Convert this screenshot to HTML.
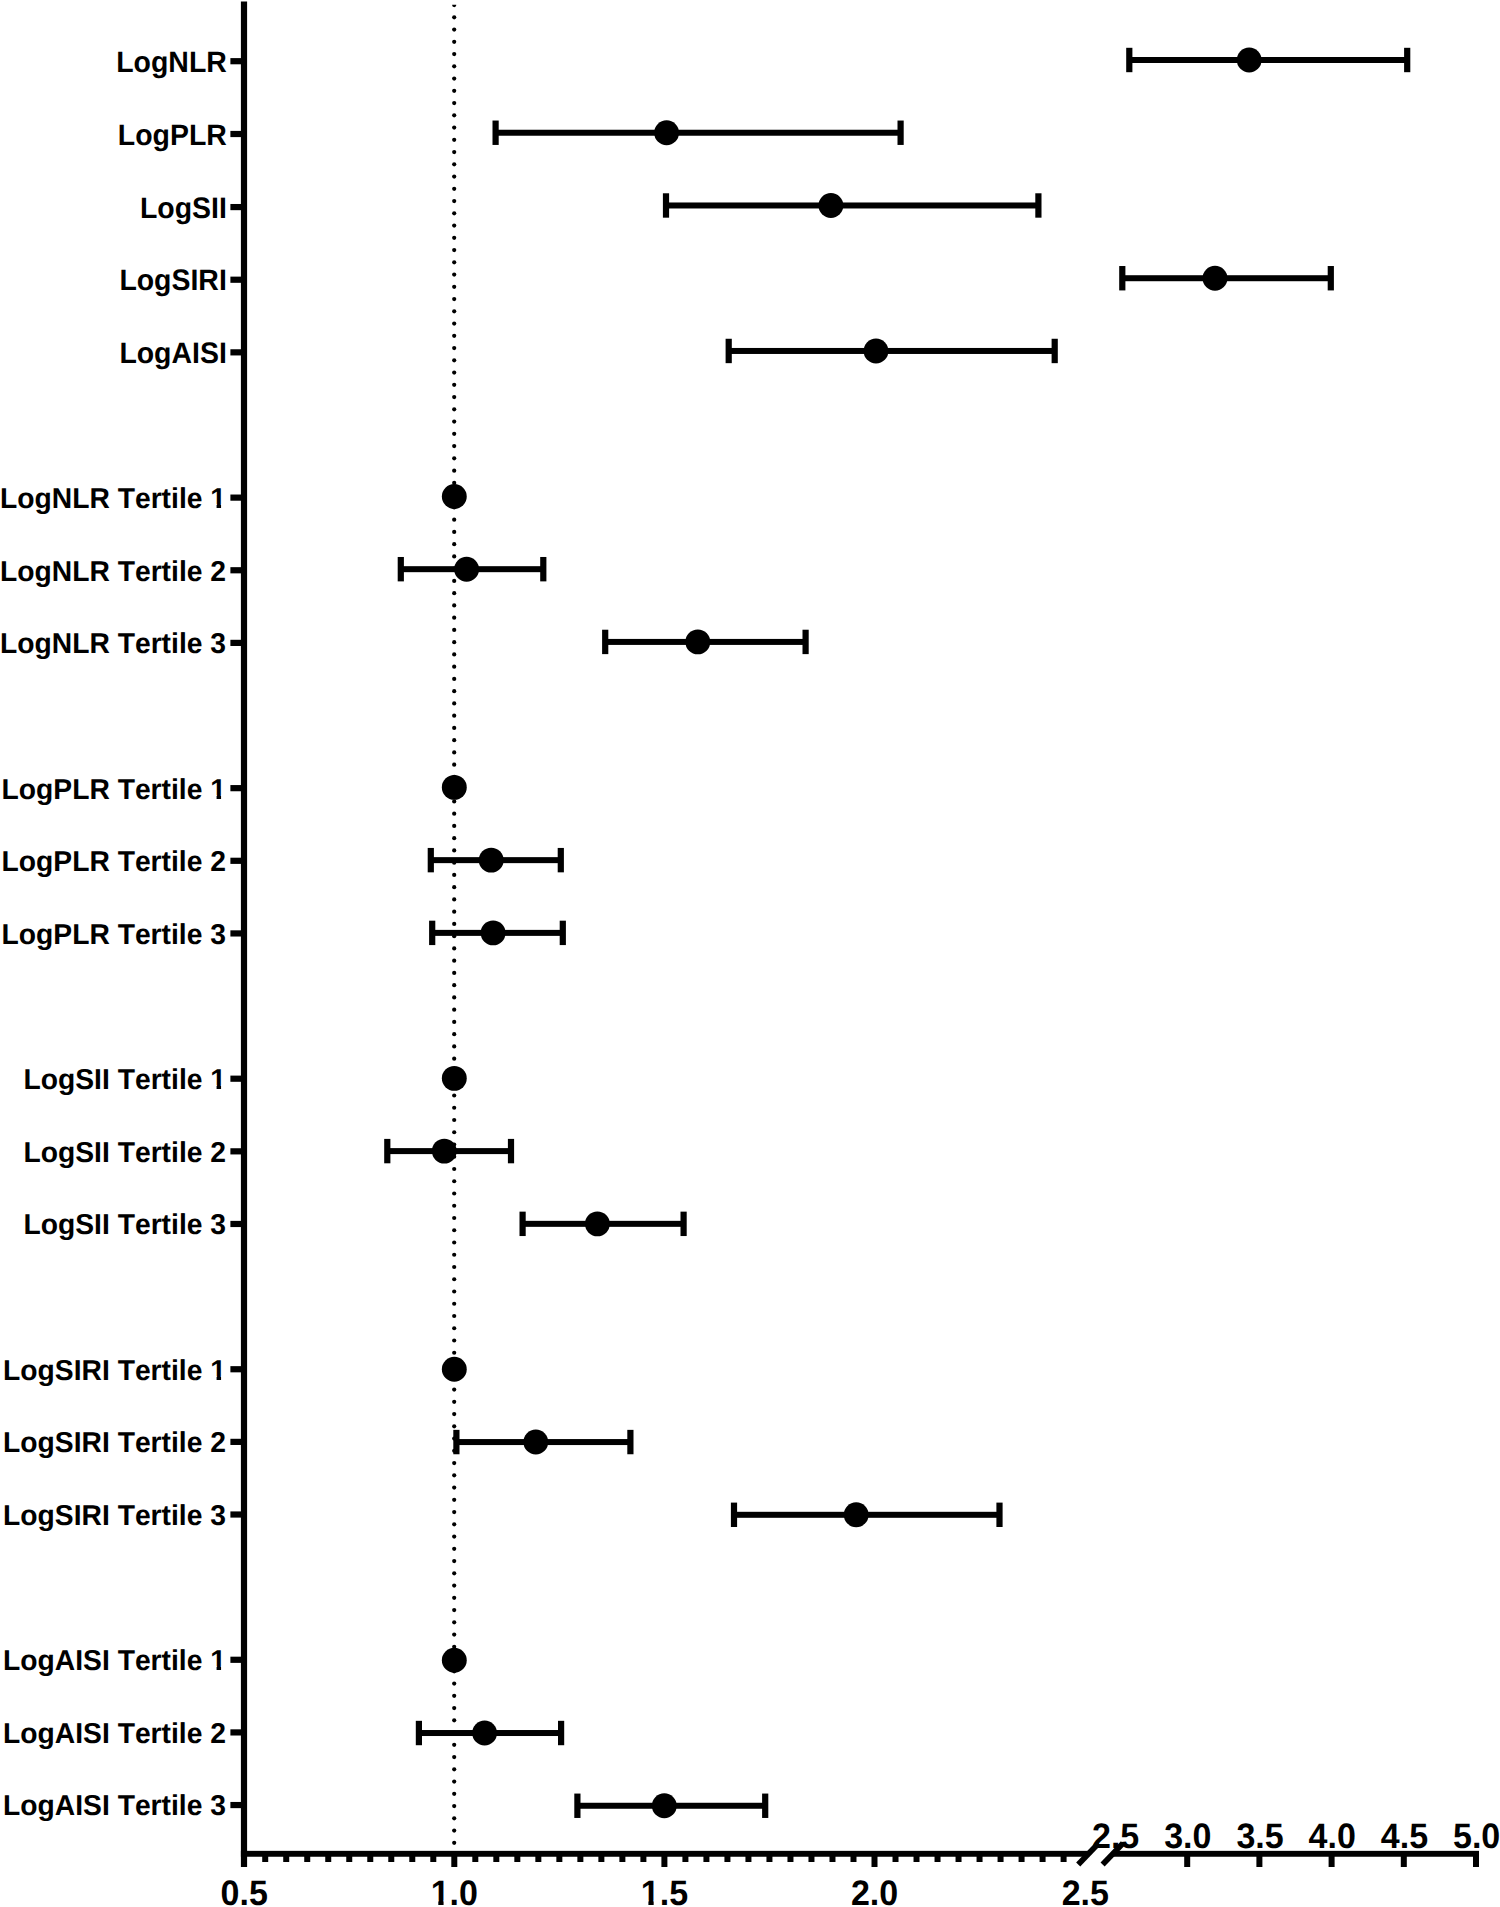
<!DOCTYPE html>
<html lang="en"><head><meta charset="utf-8"><title>Forest plot</title>
<style>html,body{margin:0;padding:0;background:#fff}svg{display:block}text{font-family:"Liberation Sans",Arial,Helvetica,sans-serif;font-weight:bold;fill:#000;font-kerning:none;text-rendering:geometricPrecision}.yl{font-size:28.25px;text-anchor:end}.yt{font-size:28.45px}.xl{font-size:34px;text-anchor:middle}</style></head><body>
<svg width="1500" height="1907" viewBox="0 0 1500 1907">
<rect width="1500" height="1907" fill="#fff"/>
<g id="ylabels">
<rect x="230.4" y="58.10" width="12" height="6.2" fill="#000"/>
<text class="yl yt" transform="translate(226.8 72.00) scale(1 1.04)">LogNLR</text>
<rect x="230.4" y="130.90" width="12" height="6.2" fill="#000"/>
<text class="yl yt" transform="translate(226.8 144.93) scale(1 1.04)">LogPLR</text>
<rect x="230.4" y="203.98" width="12" height="6.2" fill="#000"/>
<text class="yl yt" transform="translate(226.8 217.55) scale(1 1.04)">LogSII</text>
<rect x="230.4" y="276.62" width="12" height="6.2" fill="#000"/>
<text class="yl yt" transform="translate(226.8 290.18) scale(1 1.04)">LogSIRI</text>
<rect x="230.4" y="349.25" width="12" height="6.2" fill="#000"/>
<text class="yl yt" transform="translate(226.8 362.80) scale(1 1.04)">LogAISI</text>
<rect x="230.4" y="494.52" width="12" height="6.2" fill="#000"/>
<text class="yl" transform="translate(226.0 508.05) scale(1 1.02)">LogNLR Tertile 1</text>
<rect x="230.4" y="567.16" width="12" height="6.2" fill="#000"/>
<text class="yl" transform="translate(226.0 580.67) scale(1 1.02)">LogNLR Tertile 2</text>
<rect x="230.4" y="639.79" width="12" height="6.2" fill="#000"/>
<text class="yl" transform="translate(226.0 653.30) scale(1 1.02)">LogNLR Tertile 3</text>
<rect x="230.4" y="785.06" width="12" height="6.2" fill="#000"/>
<text class="yl" transform="translate(226.0 798.55) scale(1 1.02)">LogPLR Tertile 1</text>
<rect x="230.4" y="857.70" width="12" height="6.2" fill="#000"/>
<text class="yl" transform="translate(226.0 871.17) scale(1 1.02)">LogPLR Tertile 2</text>
<rect x="230.4" y="930.33" width="12" height="6.2" fill="#000"/>
<text class="yl" transform="translate(226.0 943.80) scale(1 1.02)">LogPLR Tertile 3</text>
<rect x="230.4" y="1075.60" width="12" height="6.2" fill="#000"/>
<text class="yl" transform="translate(226.0 1089.05) scale(1 1.02)">LogSII Tertile 1</text>
<rect x="230.4" y="1148.24" width="12" height="6.2" fill="#000"/>
<text class="yl" transform="translate(226.0 1161.67) scale(1 1.02)">LogSII Tertile 2</text>
<rect x="230.4" y="1220.87" width="12" height="6.2" fill="#000"/>
<text class="yl" transform="translate(226.0 1234.30) scale(1 1.02)">LogSII Tertile 3</text>
<rect x="230.4" y="1366.14" width="12" height="6.2" fill="#000"/>
<text class="yl" transform="translate(226.0 1379.55) scale(1 1.02)">LogSIRI Tertile 1</text>
<rect x="230.4" y="1438.78" width="12" height="6.2" fill="#000"/>
<text class="yl" transform="translate(226.0 1452.17) scale(1 1.02)">LogSIRI Tertile 2</text>
<rect x="230.4" y="1511.41" width="12" height="6.2" fill="#000"/>
<text class="yl" transform="translate(226.0 1524.80) scale(1 1.02)">LogSIRI Tertile 3</text>
<rect x="230.4" y="1656.68" width="12" height="6.2" fill="#000"/>
<text class="yl" transform="translate(226.0 1670.05) scale(1 1.02)">LogAISI Tertile 1</text>
<rect x="230.4" y="1729.32" width="12" height="6.2" fill="#000"/>
<text class="yl" transform="translate(226.0 1742.67) scale(1 1.02)">LogAISI Tertile 2</text>
<rect x="230.4" y="1801.95" width="12" height="6.2" fill="#000"/>
<text class="yl" transform="translate(226.0 1815.30) scale(1 1.02)">LogAISI Tertile 3</text>
</g>
<g id="axes" fill="#000">
<rect x="240.90" y="1.5" width="6.20" height="1865.50"/>
<rect x="240.90" y="1850.85" width="847.10" height="5.90"/>
<rect x="1113" y="1850.85" width="366.00" height="5.90"/>
<rect x="262.21" y="1853.80" width="6" height="8.20"/>
<rect x="283.22" y="1853.80" width="6" height="8.20"/>
<rect x="304.23" y="1853.80" width="6" height="8.20"/>
<rect x="325.24" y="1853.80" width="6" height="8.20"/>
<rect x="346.25" y="1853.80" width="6" height="8.20"/>
<rect x="367.26" y="1853.80" width="6" height="8.20"/>
<rect x="388.27" y="1853.80" width="6" height="8.20"/>
<rect x="409.28" y="1853.80" width="6" height="8.20"/>
<rect x="430.29" y="1853.80" width="6" height="8.20"/>
<rect x="451.30" y="1853.80" width="6" height="13.20"/>
<rect x="472.31" y="1853.80" width="6" height="8.20"/>
<rect x="493.32" y="1853.80" width="6" height="8.20"/>
<rect x="514.33" y="1853.80" width="6" height="8.20"/>
<rect x="535.34" y="1853.80" width="6" height="8.20"/>
<rect x="556.35" y="1853.80" width="6" height="8.20"/>
<rect x="577.36" y="1853.80" width="6" height="8.20"/>
<rect x="598.37" y="1853.80" width="6" height="8.20"/>
<rect x="619.38" y="1853.80" width="6" height="8.20"/>
<rect x="640.39" y="1853.80" width="6" height="8.20"/>
<rect x="661.40" y="1853.80" width="6" height="13.20"/>
<rect x="682.41" y="1853.80" width="6" height="8.20"/>
<rect x="703.42" y="1853.80" width="6" height="8.20"/>
<rect x="724.43" y="1853.80" width="6" height="8.20"/>
<rect x="745.44" y="1853.80" width="6" height="8.20"/>
<rect x="766.45" y="1853.80" width="6" height="8.20"/>
<rect x="787.46" y="1853.80" width="6" height="8.20"/>
<rect x="808.47" y="1853.80" width="6" height="8.20"/>
<rect x="829.48" y="1853.80" width="6" height="8.20"/>
<rect x="850.49" y="1853.80" width="6" height="8.20"/>
<rect x="871.50" y="1853.80" width="6" height="13.20"/>
<rect x="892.51" y="1853.80" width="6" height="8.20"/>
<rect x="913.52" y="1853.80" width="6" height="8.20"/>
<rect x="934.53" y="1853.80" width="6" height="8.20"/>
<rect x="955.54" y="1853.80" width="6" height="8.20"/>
<rect x="976.55" y="1853.80" width="6" height="8.20"/>
<rect x="997.56" y="1853.80" width="6" height="8.20"/>
<rect x="1018.57" y="1853.80" width="6" height="8.20"/>
<rect x="1039.58" y="1853.80" width="6" height="8.20"/>
<rect x="1060.59" y="1853.80" width="6" height="8.20"/>
<rect x="1184.20" y="1853.80" width="6" height="13.20"/>
<rect x="1256.40" y="1853.80" width="6" height="13.20"/>
<rect x="1328.60" y="1853.80" width="6" height="13.20"/>
<rect x="1400.80" y="1853.80" width="6" height="13.20"/>
<rect x="1473.00" y="1853.80" width="6" height="13.20"/>
</g>
<g id="break" stroke="#000" stroke-width="5.7" stroke-linecap="butt">
<line x1="1078.20" y1="1864.40" x2="1098.60" y2="1843.30"/>
<line x1="1102.60" y1="1864.40" x2="1123.00" y2="1843.30"/>
</g>
<g id="xlabels">
<text class="xl" transform="translate(244.20 1904.6) scale(1 1.040)">0.5</text>
<text class="xl" transform="translate(454.30 1904.6) scale(1 1.040)">1.0</text>
<text class="xl" transform="translate(664.40 1904.6) scale(1 1.040)">1.5</text>
<text class="xl" transform="translate(874.50 1904.6) scale(1 1.040)">2.0</text>
<text class="xl" transform="translate(1085.30 1904.6) scale(1 1.040)">2.5</text>
<text class="xl" transform="translate(1115.60 1848.4) scale(1 1.040)">2.5</text>
<text class="xl" transform="translate(1187.80 1848.4) scale(1 1.040)">3.0</text>
<text class="xl" transform="translate(1260.00 1848.4) scale(1 1.040)">3.5</text>
<text class="xl" transform="translate(1332.20 1848.4) scale(1 1.040)">4.0</text>
<text class="xl" transform="translate(1404.40 1848.4) scale(1 1.040)">4.5</text>
<text class="xl" transform="translate(1476.60 1848.4) scale(1 1.040)">5.0</text>
</g>
<g id="onefix" fill="#fff">
<rect x="211.07" y="504.06" width="5.51" height="4.94"/>
<rect x="221.06" y="504.06" width="5.16" height="4.94"/>
<rect x="211.07" y="795.06" width="5.51" height="4.94"/>
<rect x="221.06" y="795.06" width="5.16" height="4.94"/>
<rect x="211.07" y="1085.06" width="5.51" height="4.94"/>
<rect x="221.06" y="1085.06" width="5.16" height="4.94"/>
<rect x="211.07" y="1376.06" width="5.51" height="4.94"/>
<rect x="221.06" y="1376.06" width="5.16" height="4.94"/>
<rect x="211.07" y="1666.06" width="5.51" height="4.94"/>
<rect x="221.06" y="1666.06" width="5.16" height="4.94"/>
<rect x="431.81" y="1900.39" width="6.49" height="5.61"/>
<rect x="443.57" y="1900.39" width="6.06" height="5.61"/>
<rect x="641.91" y="1900.39" width="6.49" height="5.61"/>
<rect x="653.67" y="1900.39" width="6.06" height="5.61"/>
</g>
<g id="data" fill="#000">
<rect x="1129.30" y="57.00" width="277.90" height="6.00"/>
<rect x="1126.20" y="47.80" width="6.20" height="24.40"/>
<rect x="1404.10" y="47.80" width="6.20" height="24.40"/>
<circle cx="1249.20" cy="60.00" r="12.45"/>
<rect x="495.60" y="129.74" width="405.00" height="6.00"/>
<rect x="492.50" y="120.54" width="6.20" height="24.40"/>
<rect x="897.50" y="120.54" width="6.20" height="24.40"/>
<circle cx="666.60" cy="132.74" r="12.45"/>
<rect x="666.00" y="202.48" width="372.40" height="6.00"/>
<rect x="662.90" y="193.28" width="6.20" height="24.40"/>
<rect x="1035.30" y="193.28" width="6.20" height="24.40"/>
<circle cx="830.90" cy="205.48" r="12.45"/>
<rect x="1122.30" y="275.22" width="208.50" height="6.00"/>
<rect x="1119.20" y="266.02" width="6.20" height="24.40"/>
<rect x="1327.70" y="266.02" width="6.20" height="24.40"/>
<circle cx="1215.00" cy="278.22" r="12.45"/>
<rect x="728.70" y="347.96" width="326.00" height="6.00"/>
<rect x="725.60" y="338.76" width="6.20" height="24.40"/>
<rect x="1051.60" y="338.76" width="6.20" height="24.40"/>
<circle cx="876.00" cy="350.96" r="12.45"/>
<circle cx="454.30" cy="496.44" r="12.45"/>
<rect x="400.80" y="566.18" width="142.50" height="6.00"/>
<rect x="397.70" y="556.98" width="6.20" height="24.40"/>
<rect x="540.20" y="556.98" width="6.20" height="24.40"/>
<circle cx="466.60" cy="569.18" r="12.45"/>
<rect x="605.20" y="638.92" width="200.40" height="6.00"/>
<rect x="602.10" y="629.72" width="6.20" height="24.40"/>
<rect x="802.50" y="629.72" width="6.20" height="24.40"/>
<circle cx="697.80" cy="641.92" r="12.45"/>
<circle cx="454.30" cy="787.40" r="12.45"/>
<rect x="430.80" y="857.14" width="130.00" height="6.00"/>
<rect x="427.70" y="847.94" width="6.20" height="24.40"/>
<rect x="557.70" y="847.94" width="6.20" height="24.40"/>
<circle cx="491.20" cy="860.14" r="12.45"/>
<rect x="432.20" y="929.88" width="130.60" height="6.00"/>
<rect x="429.10" y="920.68" width="6.20" height="24.40"/>
<rect x="559.70" y="920.68" width="6.20" height="24.40"/>
<circle cx="493.10" cy="932.88" r="12.45"/>
<circle cx="454.30" cy="1078.36" r="12.45"/>
<rect x="387.30" y="1148.10" width="123.70" height="6.00"/>
<rect x="384.20" y="1138.90" width="6.20" height="24.40"/>
<rect x="507.90" y="1138.90" width="6.20" height="24.40"/>
<circle cx="444.30" cy="1151.10" r="12.45"/>
<rect x="522.60" y="1220.84" width="161.00" height="6.00"/>
<rect x="519.50" y="1211.64" width="6.20" height="24.40"/>
<rect x="680.50" y="1211.64" width="6.20" height="24.40"/>
<circle cx="597.40" cy="1223.84" r="12.45"/>
<circle cx="454.30" cy="1369.32" r="12.45"/>
<rect x="456.40" y="1439.06" width="174.00" height="6.00"/>
<rect x="453.30" y="1429.86" width="6.20" height="24.40"/>
<rect x="627.30" y="1429.86" width="6.20" height="24.40"/>
<circle cx="535.80" cy="1442.06" r="12.45"/>
<rect x="734.00" y="1511.80" width="265.50" height="6.00"/>
<rect x="730.90" y="1502.60" width="6.20" height="24.40"/>
<rect x="996.40" y="1502.60" width="6.20" height="24.40"/>
<circle cx="856.20" cy="1514.80" r="12.45"/>
<circle cx="454.30" cy="1660.28" r="12.45"/>
<rect x="418.90" y="1730.02" width="142.20" height="6.00"/>
<rect x="415.80" y="1720.82" width="6.20" height="24.40"/>
<rect x="558.00" y="1720.82" width="6.20" height="24.40"/>
<circle cx="484.60" cy="1733.02" r="12.45"/>
<rect x="577.40" y="1802.76" width="187.80" height="6.00"/>
<rect x="574.30" y="1793.56" width="6.20" height="24.40"/>
<rect x="762.10" y="1793.56" width="6.20" height="24.40"/>
<circle cx="664.30" cy="1805.76" r="12.45"/>
</g>
<defs><clipPath id="dc"><rect x="440" y="4.8" width="30" height="1900"/></clipPath></defs>
<g id="refline" fill="#000" clip-path="url(#dc)">
<circle cx="454.2" cy="5.05" r="2.1"/>
<circle cx="454.2" cy="17.30" r="2.1"/>
<circle cx="454.2" cy="29.55" r="2.1"/>
<circle cx="454.2" cy="41.81" r="2.1"/>
<circle cx="454.2" cy="54.06" r="2.1"/>
<circle cx="454.2" cy="66.31" r="2.1"/>
<circle cx="454.2" cy="78.56" r="2.1"/>
<circle cx="454.2" cy="90.81" r="2.1"/>
<circle cx="454.2" cy="103.07" r="2.1"/>
<circle cx="454.2" cy="115.32" r="2.1"/>
<circle cx="454.2" cy="127.57" r="2.1"/>
<circle cx="454.2" cy="139.82" r="2.1"/>
<circle cx="454.2" cy="152.07" r="2.1"/>
<circle cx="454.2" cy="164.33" r="2.1"/>
<circle cx="454.2" cy="176.58" r="2.1"/>
<circle cx="454.2" cy="188.83" r="2.1"/>
<circle cx="454.2" cy="201.08" r="2.1"/>
<circle cx="454.2" cy="213.33" r="2.1"/>
<circle cx="454.2" cy="225.59" r="2.1"/>
<circle cx="454.2" cy="237.84" r="2.1"/>
<circle cx="454.2" cy="250.09" r="2.1"/>
<circle cx="454.2" cy="262.34" r="2.1"/>
<circle cx="454.2" cy="274.59" r="2.1"/>
<circle cx="454.2" cy="286.85" r="2.1"/>
<circle cx="454.2" cy="299.10" r="2.1"/>
<circle cx="454.2" cy="311.35" r="2.1"/>
<circle cx="454.2" cy="323.60" r="2.1"/>
<circle cx="454.2" cy="335.85" r="2.1"/>
<circle cx="454.2" cy="348.11" r="2.1"/>
<circle cx="454.2" cy="360.36" r="2.1"/>
<circle cx="454.2" cy="372.61" r="2.1"/>
<circle cx="454.2" cy="384.86" r="2.1"/>
<circle cx="454.2" cy="397.11" r="2.1"/>
<circle cx="454.2" cy="409.37" r="2.1"/>
<circle cx="454.2" cy="421.62" r="2.1"/>
<circle cx="454.2" cy="433.87" r="2.1"/>
<circle cx="454.2" cy="446.12" r="2.1"/>
<circle cx="454.2" cy="458.37" r="2.1"/>
<circle cx="454.2" cy="470.63" r="2.1"/>
<circle cx="454.2" cy="482.88" r="2.1"/>
<circle cx="454.2" cy="495.13" r="2.1"/>
<circle cx="454.2" cy="507.38" r="2.1"/>
<circle cx="454.2" cy="519.63" r="2.1"/>
<circle cx="454.2" cy="531.89" r="2.1"/>
<circle cx="454.2" cy="544.14" r="2.1"/>
<circle cx="454.2" cy="556.39" r="2.1"/>
<circle cx="454.2" cy="568.64" r="2.1"/>
<circle cx="454.2" cy="580.89" r="2.1"/>
<circle cx="454.2" cy="593.15" r="2.1"/>
<circle cx="454.2" cy="605.40" r="2.1"/>
<circle cx="454.2" cy="617.65" r="2.1"/>
<circle cx="454.2" cy="629.90" r="2.1"/>
<circle cx="454.2" cy="642.15" r="2.1"/>
<circle cx="454.2" cy="654.41" r="2.1"/>
<circle cx="454.2" cy="666.66" r="2.1"/>
<circle cx="454.2" cy="678.91" r="2.1"/>
<circle cx="454.2" cy="691.16" r="2.1"/>
<circle cx="454.2" cy="703.41" r="2.1"/>
<circle cx="454.2" cy="715.67" r="2.1"/>
<circle cx="454.2" cy="727.92" r="2.1"/>
<circle cx="454.2" cy="740.17" r="2.1"/>
<circle cx="454.2" cy="752.42" r="2.1"/>
<circle cx="454.2" cy="764.67" r="2.1"/>
<circle cx="454.2" cy="776.93" r="2.1"/>
<circle cx="454.2" cy="789.18" r="2.1"/>
<circle cx="454.2" cy="801.43" r="2.1"/>
<circle cx="454.2" cy="813.68" r="2.1"/>
<circle cx="454.2" cy="825.93" r="2.1"/>
<circle cx="454.2" cy="838.19" r="2.1"/>
<circle cx="454.2" cy="850.44" r="2.1"/>
<circle cx="454.2" cy="862.69" r="2.1"/>
<circle cx="454.2" cy="874.94" r="2.1"/>
<circle cx="454.2" cy="887.19" r="2.1"/>
<circle cx="454.2" cy="899.45" r="2.1"/>
<circle cx="454.2" cy="911.70" r="2.1"/>
<circle cx="454.2" cy="923.95" r="2.1"/>
<circle cx="454.2" cy="936.20" r="2.1"/>
<circle cx="454.2" cy="948.45" r="2.1"/>
<circle cx="454.2" cy="960.71" r="2.1"/>
<circle cx="454.2" cy="972.96" r="2.1"/>
<circle cx="454.2" cy="985.21" r="2.1"/>
<circle cx="454.2" cy="997.46" r="2.1"/>
<circle cx="454.2" cy="1009.71" r="2.1"/>
<circle cx="454.2" cy="1021.97" r="2.1"/>
<circle cx="454.2" cy="1034.22" r="2.1"/>
<circle cx="454.2" cy="1046.47" r="2.1"/>
<circle cx="454.2" cy="1058.72" r="2.1"/>
<circle cx="454.2" cy="1070.97" r="2.1"/>
<circle cx="454.2" cy="1083.23" r="2.1"/>
<circle cx="454.2" cy="1095.48" r="2.1"/>
<circle cx="454.2" cy="1107.73" r="2.1"/>
<circle cx="454.2" cy="1119.98" r="2.1"/>
<circle cx="454.2" cy="1132.23" r="2.1"/>
<circle cx="454.2" cy="1144.49" r="2.1"/>
<circle cx="454.2" cy="1156.74" r="2.1"/>
<circle cx="454.2" cy="1168.99" r="2.1"/>
<circle cx="454.2" cy="1181.24" r="2.1"/>
<circle cx="454.2" cy="1193.49" r="2.1"/>
<circle cx="454.2" cy="1205.75" r="2.1"/>
<circle cx="454.2" cy="1218.00" r="2.1"/>
<circle cx="454.2" cy="1230.25" r="2.1"/>
<circle cx="454.2" cy="1242.50" r="2.1"/>
<circle cx="454.2" cy="1254.75" r="2.1"/>
<circle cx="454.2" cy="1267.01" r="2.1"/>
<circle cx="454.2" cy="1279.26" r="2.1"/>
<circle cx="454.2" cy="1291.51" r="2.1"/>
<circle cx="454.2" cy="1303.76" r="2.1"/>
<circle cx="454.2" cy="1316.01" r="2.1"/>
<circle cx="454.2" cy="1328.27" r="2.1"/>
<circle cx="454.2" cy="1340.52" r="2.1"/>
<circle cx="454.2" cy="1352.77" r="2.1"/>
<circle cx="454.2" cy="1365.02" r="2.1"/>
<circle cx="454.2" cy="1377.27" r="2.1"/>
<circle cx="454.2" cy="1389.53" r="2.1"/>
<circle cx="454.2" cy="1401.78" r="2.1"/>
<circle cx="454.2" cy="1414.03" r="2.1"/>
<circle cx="454.2" cy="1426.28" r="2.1"/>
<circle cx="454.2" cy="1438.53" r="2.1"/>
<circle cx="454.2" cy="1450.79" r="2.1"/>
<circle cx="454.2" cy="1463.04" r="2.1"/>
<circle cx="454.2" cy="1475.29" r="2.1"/>
<circle cx="454.2" cy="1487.54" r="2.1"/>
<circle cx="454.2" cy="1499.79" r="2.1"/>
<circle cx="454.2" cy="1512.05" r="2.1"/>
<circle cx="454.2" cy="1524.30" r="2.1"/>
<circle cx="454.2" cy="1536.55" r="2.1"/>
<circle cx="454.2" cy="1548.80" r="2.1"/>
<circle cx="454.2" cy="1561.05" r="2.1"/>
<circle cx="454.2" cy="1573.31" r="2.1"/>
<circle cx="454.2" cy="1585.56" r="2.1"/>
<circle cx="454.2" cy="1597.81" r="2.1"/>
<circle cx="454.2" cy="1610.06" r="2.1"/>
<circle cx="454.2" cy="1622.31" r="2.1"/>
<circle cx="454.2" cy="1634.57" r="2.1"/>
<circle cx="454.2" cy="1646.82" r="2.1"/>
<circle cx="454.2" cy="1659.07" r="2.1"/>
<circle cx="454.2" cy="1671.32" r="2.1"/>
<circle cx="454.2" cy="1683.57" r="2.1"/>
<circle cx="454.2" cy="1695.83" r="2.1"/>
<circle cx="454.2" cy="1708.08" r="2.1"/>
<circle cx="454.2" cy="1720.33" r="2.1"/>
<circle cx="454.2" cy="1732.58" r="2.1"/>
<circle cx="454.2" cy="1744.83" r="2.1"/>
<circle cx="454.2" cy="1757.09" r="2.1"/>
<circle cx="454.2" cy="1769.34" r="2.1"/>
<circle cx="454.2" cy="1781.59" r="2.1"/>
<circle cx="454.2" cy="1793.84" r="2.1"/>
<circle cx="454.2" cy="1806.09" r="2.1"/>
<circle cx="454.2" cy="1818.35" r="2.1"/>
<circle cx="454.2" cy="1830.60" r="2.1"/>
<circle cx="454.2" cy="1842.85" r="2.1"/>
</g>
</svg></body></html>
